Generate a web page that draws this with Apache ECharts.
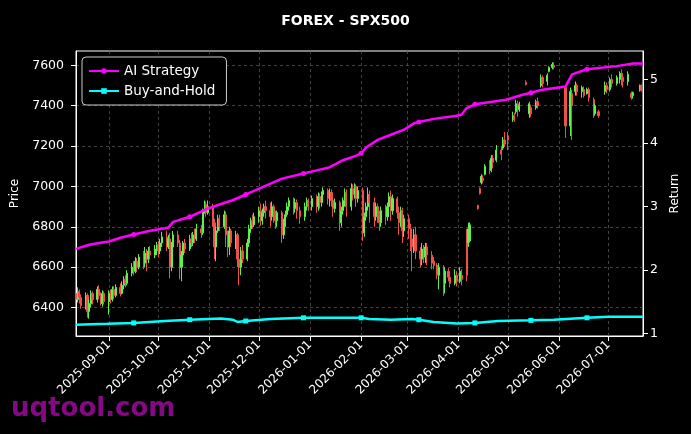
<!DOCTYPE html>
<html><head><meta charset="utf-8">
<script src="https://cdn.jsdelivr.net/npm/echarts@6/dist/echarts.min.js"></script>
<style>html,body{margin:0;padding:0;background:#000;}#c{width:691px;height:434px;}</style>
</head><body><div id="c"></div>
<script>
// [day, open, close, low, high]
const candlesAug25 = [
[12,6470,6440,6430,6495],[13,6440,6480,6425,6500],[14,6480,6450,6420,6490],[15,6450,6410,6395,6465],
[18,6410,6460,6390,6475],[19,6460,6380,6350,6470],[20,6380,6420,6345,6440],[21,6420,6470,6400,6485],[22,6470,6440,6415,6480],
[25,6440,6490,6425,6505],[26,6490,6460,6440,6510],[27,6460,6420,6410,6475],[28,6420,6470,6405,6485],[29,6470,6430,6415,6480]];
const candlesSep25 = [
[1,6430,6470,6365,6485],[2,6470,6440,6420,6490],[3,6440,6490,6430,6505],[4,6490,6460,6440,6505],[5,6460,6500,6450,6515],
[8,6500,6470,6455,6520],[9,6470,6510,6465,6530],[10,6510,6540,6490,6555],[11,6540,6520,6500,6560],[12,6520,6570,6510,6585],
[15,6570,6600,6555,6620],[16,6600,6580,6560,6630],[17,6580,6630,6570,6650],[18,6630,6600,6575,6645],[19,6600,6650,6590,6665],
[22,6650,6620,6590,6680],[23,6620,6670,6600,6700],[24,6670,6640,6580,6690],[25,6640,6680,6620,6700],[26,6680,6660,6640,6705],
[29,6660,6690,6645,6710],[30,6690,6710,6660,6725]];
const candlesOct25 = [
[1,6710,6680,6650,6730],[2,6680,6720,6665,6740],[3,6720,6750,6700,6775],
[6,6750,6700,6680,6780],[7,6700,6740,6690,6760],[8,6740,6600,6545,6770],[9,6600,6700,6580,6725],[10,6700,6760,6690,6780],
[13,6760,6720,6700,6780],[14,6720,6600,6540,6735],[15,6600,6660,6530,6680],[16,6660,6720,6640,6730],[17,6720,6690,6670,6740],
[20,6690,6740,6680,6760],[21,6740,6720,6700,6770],[22,6720,6760,6705,6775],[23,6760,6740,6720,6790],[24,6740,6790,6730,6815],
[27,6790,6770,6745,6810],[28,6770,6880,6760,6890],[29,6880,6910,6865,6930],[30,6910,6870,6850,6925],[31,6870,6900,6860,6930]];
const candlesNov25 = [
[3,6900,6820,6800,6915],[4,6820,6700,6640,6840],[5,6700,6780,6630,6800],[6,6780,6840,6770,6860],[7,6840,6800,6780,6860],
[10,6800,6860,6790,6880],[11,6860,6760,6700,6875],[12,6760,6700,6650,6780],[13,6700,6780,6660,6800],[14,6780,6720,6700,6790],
[17,6720,6760,6690,6780],[18,6760,6640,6600,6770],[19,6640,6600,6510,6660],[20,6600,6680,6560,6700],[21,6680,6640,6620,6710],
[24,6640,6720,6630,6740],[25,6720,6790,6700,6810],[26,6790,6830,6770,6845],[27,6830,6810,6790,6860],[28,6810,6850,6800,6870]];
const candlesDec25 = [
[1,6850,6880,6820,6900],[2,6880,6830,6805,6915],[3,6830,6870,6810,6890],[4,6870,6900,6850,6915],[5,6900,6880,6840,6930],
[8,6880,6850,6800,6920],[9,6850,6900,6830,6925],[10,6900,6860,6820,6910],[11,6860,6830,6790,6880],[12,6830,6870,6800,6880],
[15,6870,6760,6720,6880],[16,6760,6820,6740,6840],[17,6820,6860,6800,6880],[18,6860,6900,6850,6920],[19,6900,6930,6880,6945],
[22,6930,6890,6860,6945],[23,6890,6920,6870,6940],[24,6920,6880,6840,6935],[26,6880,6850,6815,6900],
[29,6850,6900,6830,6920],[30,6900,6930,6880,6945],[31,6930,6900,6880,6940]];
const candlesJan26 = [
[2,6900,6940,6880,6955],[5,6940,6900,6870,6960],[6,6900,6950,6880,6970],[7,6950,6920,6890,6965],[8,6920,6960,6900,6975],[9,6960,6980,6930,6995],
[12,6980,6940,6910,6990],[13,6940,6970,6900,6990],[14,6970,6930,6900,6985],[15,6930,6890,6850,6945],[16,6890,6920,6870,6940],
[19,6920,6820,6780,6930],[20,6820,6880,6800,6900],[21,6880,6930,6860,6945],[22,6930,6970,6900,6990],[23,6970,6900,6850,6985],
[26,6900,6990,6880,7015],[27,6990,6960,6930,7010],[28,6960,7000,6940,7015],[29,7000,6940,6900,7010],[30,6940,6980,6920,7000]];
const candlesFeb26 = [
[2,6980,6770,6730,6995],[3,6770,6850,6750,6870],[4,6850,6900,6830,6920],[5,6900,6960,6880,6995],[6,6960,6920,6820,6980],
[9,6920,6850,6800,6945],[10,6850,6900,6830,6920],[11,6900,6860,6820,6915],[12,6860,6820,6780,6880],[13,6820,6880,6800,6900],
[16,6880,6850,6810,6910],[17,6850,6900,6830,6920],[18,6900,6950,6880,6970],[19,6950,6880,6830,6980],[20,6880,6940,6860,6960],
[23,6940,6870,6840,6950],[24,6870,6820,6760,6900],[25,6820,6880,6800,6900],[26,6880,6780,6720,6895],[27,6780,6840,6750,6860]];
const candlesMar26 = [
[2,6840,6790,6740,6860],[3,6790,6740,6680,6815],[4,6740,6700,6580,6760],[5,6700,6760,6670,6790],[6,6760,6680,6640,6800],
[9,6680,6640,6600,6700],[10,6640,6690,6610,6720],[11,6690,6650,6620,6710],[12,6650,6700,6620,6720],[13,6700,6660,6610,6720],
[16,6660,6620,6590,6680],[17,6630,6610,6590,6650],[19,6610,6560,6540,6620],[20,6560,6600,6490,6620],
[23,6600,6520,6458,6610],[24,6520,6580,6470,6600],[26,6580,6550,6530,6595],[27,6550,6520,6500,6570],
[30,6520,6560,6510,6590],[31,6560,6530,6505,6580]];
const candlesApr26 = [
[2,6530,6580,6520,6600],[3,6560,6540,6510,6590],[6,6770,6560,6530,6790],[7,6720,6790,6700,6820],[8,6730,6810,6722,6822],
[13,6905,6890,6885,6910],[14,6990,6965,6960,6995],[15,7020,7050,7010,7060],[16,7040,7030,7015,7055],[17,7060,7100,7055,7110],
[20,7100,7080,7060,7130],[21,7080,7140,7070,7155],[22,7140,7120,7090,7155],[24,7130,7180,7120,7205],
[27,7180,7160,7130,7200],[28,7190,7230,7180,7245],[29,7230,7210,7195,7270]];
const candlesMay26 = [
[1,7250,7230,7180,7270],[4,7330,7350,7320,7370],[5,7350,7330,7320,7365],[6,7370,7410,7360,7430],[7,7410,7380,7345,7425],[8,7380,7400,7370,7420],
[12,7515,7505,7500,7525],[14,7360,7410,7340,7420],[15,7390,7360,7345,7405],[18,7390,7420,7380,7430],[19,7420,7400,7385,7440],
[21,7500,7540,7490,7555],[22,7540,7510,7490,7550],[25,7520,7550,7500,7560],[26,7570,7590,7565,7595],[28,7590,7605,7580,7615],[29,7600,7590,7580,7615]];
const candlesJun26 = [
[5,7490,7300,7240,7500],[8,7300,7470,7250,7490],[9,7460,7400,7230,7480],[11,7470,7500,7450,7520],[12,7500,7470,7450,7510],
[15,7470,7490,7440,7500],[16,7480,7450,7440,7495],[18,7460,7480,7455,7490],[19,7480,7440,7420,7490],
[22,7430,7360,7340,7440],[23,7360,7400,7350,7410],[25,7370,7350,7340,7380],[29,7470,7500,7455,7520],[30,7500,7480,7460,7515]];
const candlesJul26 = [
[2,7480,7530,7470,7540],[3,7530,7510,7490,7555],[6,7510,7540,7500,7550],[8,7530,7560,7510,7570],[9,7560,7540,7500,7580],
[10,7540,7520,7490,7560],[13,7520,7555,7500,7570],[15,7460,7440,7430,7470],[16,7450,7465,7435,7470],[20,7480,7500,7470,7505],[21,7495,7475,7470,7505]];
const candleMonths = [['2025-08',candlesAug25],['2025-09',candlesSep25],['2025-10',candlesOct25],['2025-11',candlesNov25],
['2025-12',candlesDec25],['2026-01',candlesJan26],['2026-02',candlesFeb26],['2026-03',candlesMar26],['2026-04',candlesApr26],
['2026-05',candlesMay26],['2026-06',candlesJun26],['2026-07',candlesJul26]];

const aiDates = ['2025-08-12','2025-08-20','2025-08-27','2025-09-01','2025-09-08','2025-09-16','2025-09-26','2025-10-05','2025-10-07','2025-10-10',
'2025-10-20','2025-10-31','2025-11-08','2025-11-15','2025-11-23','2025-11-29','2025-12-07','2025-12-15','2025-12-28','2026-01-05',
'2026-01-13','2026-01-21','2026-01-30','2026-02-01','2026-02-04','2026-02-11','2026-02-19','2026-02-27','2026-03-05','2026-03-08',
'2026-03-17','2026-03-31','2026-04-03','2026-04-06','2026-04-11','2026-04-30','2026-05-10','2026-05-15','2026-05-22','2026-06-05',
'2026-06-06','2026-06-09','2026-06-18','2026-07-06','2026-07-16','2026-07-22'];
const aiValues = [2.335,2.40,2.43,2.45,2.51,2.56,2.62,2.66,2.67,2.76,
2.84,2.97,3.04,3.10,3.19,3.26,3.35,3.44,3.52,3.57,
3.62,3.73,3.81,3.84,3.93,4.05,4.13,4.21,4.31,4.33,
4.38,4.43,4.45,4.55,4.61,4.68,4.76,4.79,4.84,4.89,
4.90,5.08,5.16,5.21,5.25,5.25];
const bhDates = ['2025-08-12','2025-08-31','2025-09-16','2025-10-05','2025-10-20','2025-11-08','2025-11-15','2025-11-18','2025-11-23','2025-12-08',
'2025-12-28','2026-01-14','2026-02-01','2026-02-06','2026-02-19','2026-03-04','2026-03-08','2026-03-17','2026-03-31','2026-04-11',
'2026-04-25','2026-05-15','2026-05-29','2026-06-18','2026-07-01','2026-07-22'];
const bhValues = [1.14,1.155,1.17,1.20,1.22,1.24,1.22,1.185,1.20,1.23,
1.25,1.25,1.25,1.23,1.22,1.23,1.22,1.185,1.16,1.17,
1.20,1.21,1.22,1.25,1.265,1.265];
const markerDates = ['2025-09-16','2025-10-20','2025-11-23','2025-12-28','2026-02-01','2026-03-08','2026-04-11','2026-05-15','2026-06-18'];

const xTickLabels = ['2025-09-01','2025-10-01','2025-11-01','2025-12-01','2026-01-01','2026-02-01','2026-03-01','2026-04-01','2026-05-01','2026-06-01','2026-07-01'];
const priceTicks = [6400,6600,6800,7000,7200,7400,7600];
const returnTicks = [1,2,3,4,5];

function toTime(s){const p=s.split('-').map(Number);return new Date(p[0],p[1]-1,p[2]).getTime();}
function pad(n){return String(n).padStart(2,'0');}
function fmtDate(v){const d=new Date(v);return d.getFullYear()+'-'+pad(d.getMonth()+1)+'-'+pad(d.getDate());}
const candleData = [];
candleMonths.forEach(function(m){m[1].forEach(function(r){candleData.push([toTime(m[0]+'-'+pad(r[0])),r[1],r[2],r[3],r[4]]);});});
function lineData(dates, vals, sym){return dates.map(function(d,i){return {value:[toTime(d),vals[i]], symbol: markerDates.indexOf(d)>=0?sym:'none'};});}
const xTicks = xTickLabels.map(toTime);

const FONT = 'DejaVu Sans';
const chart = echarts.init(document.getElementById('c'), null, {renderer:'canvas'});
chart.setOption({
  backgroundColor:'#000',
  animation:false,
  textStyle:{fontFamily:FONT},
  title:{text:'FOREX - SPX500',left:'center',top:9,textStyle:{color:'#fff',fontSize:14,fontWeight:'bold',fontFamily:FONT}},
  legend:{data:['AI Strategy','Buy-and-Hold'],orient:'vertical',left:82,top:57,backgroundColor:'#000',borderColor:'#cccccc',borderWidth:1,borderRadius:4,
    padding:[7,11,7,6],itemGap:6,itemWidth:30,itemHeight:7,textStyle:{color:'#fff',fontSize:13.5,fontFamily:FONT}},
  grid:{left:76,right:48,top:51,bottom:98,show:true,borderColor:'#fff',borderWidth:1,backgroundColor:'#000'},
  xAxis:{type:'value',min:toTime('2025-08-12'),max:toTime('2026-07-22'),scale:true,
    axisLine:{lineStyle:{color:'#fff',width:1}},
    axisTick:{customValues:xTicks,length:5,lineStyle:{color:'#fff'}},
    axisLabel:{customValues:xTicks,rotate:45,color:'#fff',fontSize:12,margin:7,fontFamily:FONT,formatter:fmtDate},
    splitLine:{show:true,lineStyle:{color:'#555',type:[3,3],width:0.8}}},
  yAxis:[
    {type:'value',position:'left',min:6259,max:7671,name:'Price',nameLocation:'middle',nameGap:45,
      nameTextStyle:{color:'#fff',fontSize:12,fontFamily:FONT},
      axisLine:{show:true,lineStyle:{color:'#fff'}},
      axisTick:{show:true,customValues:priceTicks,length:5,lineStyle:{color:'#fff'}},
      axisLabel:{customValues:priceTicks,color:'#fff',fontSize:12.5,margin:12,fontFamily:FONT,formatter:function(v){return String(v);}},
      splitLine:{show:true,lineStyle:{color:'#555',type:[3,3],width:0.8}}},
    {type:'value',position:'right',min:0.964,max:5.448,name:'Return',nameLocation:'middle',nameGap:26,
      nameTextStyle:{color:'#fff',fontSize:12,fontFamily:FONT},
      axisLine:{show:true,lineStyle:{color:'#fff'}},
      axisTick:{show:true,customValues:returnTicks,length:5,lineStyle:{color:'#fff'}},
      axisLabel:{customValues:returnTicks,color:'#fff',fontSize:12.5,margin:7,fontFamily:FONT,formatter:function(v){return String(v);}},
      splitLine:{show:false}}
  ],
  graphic:[{type:'text',left:11,top:396,z:0,silent:true,style:{text:'uqtool.com',font:'bold 26px "DejaVu Sans"',fill:'rgba(140,10,140,0.95)'}}],
  series:[
    {type:'candlestick',name:'SPX500',data:candleData,encode:{x:0,y:[1,2,3,4]},barWidth:1.6,
      itemStyle:{color:'#5ef04e',color0:'#f0504a',borderColor:'#5ef04e',borderColor0:'#f0504a',borderWidth:1},z:2},
    {type:'line',name:'AI Strategy',yAxisIndex:1,data:lineData(aiDates,aiValues,'circle'),symbol:'circle',symbolSize:5,showSymbol:true,showAllSymbol:true,
      lineStyle:{color:'#ff00ff',width:2.5},itemStyle:{color:'#ff00ff'},z:4,emphasis:{disabled:true}},
    {type:'line',name:'Buy-and-Hold',yAxisIndex:1,data:lineData(bhDates,bhValues,'rect'),symbol:'rect',symbolSize:5,showSymbol:true,showAllSymbol:true,
      lineStyle:{color:'#00ffff',width:2.5},itemStyle:{color:'#00ffff'},z:4,emphasis:{disabled:true}}
  ]
});
</script></body></html>
